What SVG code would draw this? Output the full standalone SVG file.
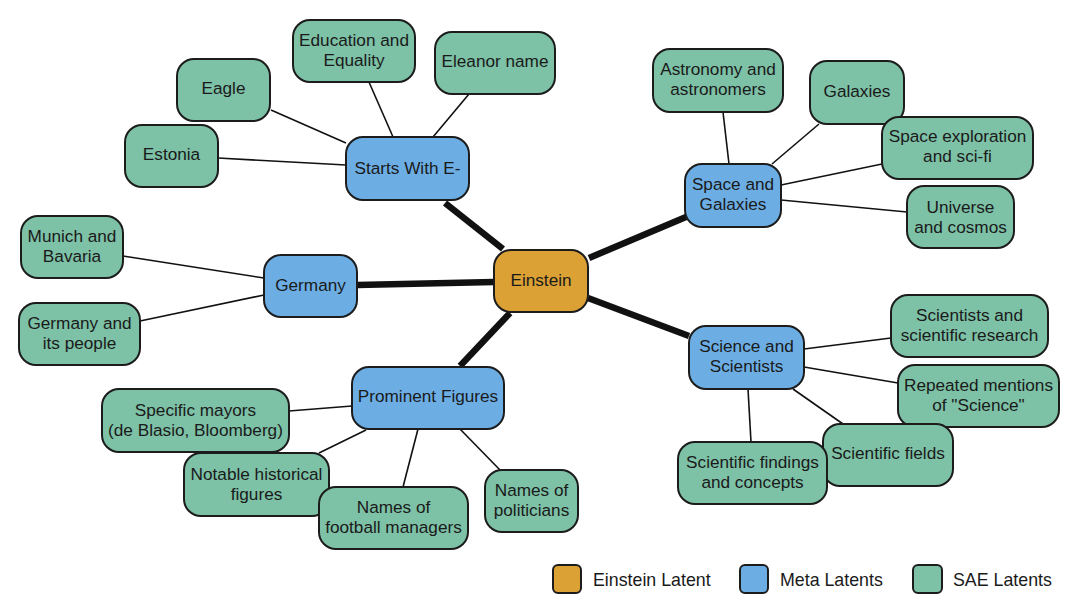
<svg xmlns="http://www.w3.org/2000/svg" width="1074" height="612" viewBox="0 0 1074 612">
<style>
.n rect{stroke:#1c1c1c;stroke-width:2}
.e rect{fill:#dba135}
.m rect{fill:#6caee4}
.s rect{fill:#7dc1a6}
text{font-family:"Liberation Sans",Arial,sans-serif;font-size:17.2px;fill:#1a1a1a;text-anchor:middle}
.lg{font-size:17.8px;text-anchor:start}
#edges line{stroke:#111;stroke-linecap:butt}
#edges .t{stroke-width:6.5}
#edges .f{stroke-width:1.6}
</style>
<rect width="1074" height="612" fill="#fff"/>
<g id="edges">
<line class="t" x1="445" y1="203" x2="503" y2="249"/>
<line class="t" x1="357" y1="285" x2="494" y2="282"/>
<line class="t" x1="589" y1="258" x2="686" y2="217"/>
<line class="t" x1="588" y1="298" x2="689" y2="336"/>
<line class="t" x1="460" y1="366" x2="510" y2="313"/>
<line class="f" x1="271" y1="110" x2="346" y2="143"/>
<line class="f" x1="218" y1="158" x2="346" y2="165"/>
<line class="f" x1="369" y1="82" x2="393" y2="137"/>
<line class="f" x1="469" y1="94" x2="433" y2="137"/>
<line class="f" x1="123" y1="256" x2="264" y2="278"/>
<line class="f" x1="140" y1="321" x2="264" y2="295"/>
<line class="f" x1="289" y1="411" x2="352" y2="406"/>
<line class="f" x1="319" y1="453" x2="366" y2="430"/>
<line class="f" x1="403" y1="487" x2="418" y2="429"/>
<line class="f" x1="500" y1="470" x2="460" y2="429"/>
<line class="f" x1="723" y1="112" x2="729" y2="164"/>
<line class="f" x1="819" y1="124" x2="772" y2="164"/>
<line class="f" x1="882" y1="164" x2="781" y2="185"/>
<line class="f" x1="907" y1="212" x2="781" y2="200"/>
<line class="f" x1="891" y1="338" x2="804" y2="349"/>
<line class="f" x1="898" y1="383" x2="804" y2="367"/>
<line class="f" x1="843" y1="424" x2="793" y2="389"/>
<line class="f" x1="751" y1="442" x2="748" y2="389"/>
</g>
<g id="n-einstein" class="n e"><rect x="494" y="250" width="94" height="62" rx="17"/><text x="541" y="286">Einstein</text></g>
<g id="n-starts" class="n m"><rect x="346" y="137" width="123" height="63" rx="17"/><text x="407.5" y="174">Starts With E-</text></g>
<g id="n-germany" class="n m"><rect x="264" y="255" width="93" height="62" rx="17"/><text x="310.5" y="291">Germany</text></g>
<g id="n-space" class="n m"><rect x="685" y="164" width="96" height="63" rx="17"/><text x="733" y="190">Space and</text><text x="733" y="210">Galaxies</text></g>
<g id="n-science" class="n m"><rect x="689" y="326" width="115" height="63" rx="17"/><text x="746.5" y="352">Science and</text><text x="746.5" y="372">Scientists</text></g>
<g id="n-prominent" class="n m"><rect x="352" y="367" width="152" height="62" rx="17"/><text x="428" y="402">Prominent Figures</text></g>
<g id="n-education" class="n s"><rect x="293" y="20" width="122" height="62" rx="17"/><text x="354" y="46">Education and</text><text x="354" y="66">Equality</text></g>
<g id="n-eleanor" class="n s"><rect x="435" y="32" width="120" height="62" rx="17"/><text x="495" y="67">Eleanor name</text></g>
<g id="n-eagle" class="n s"><rect x="177" y="59" width="93" height="62" rx="17"/><text x="223.5" y="94">Eagle</text></g>
<g id="n-estonia" class="n s"><rect x="125" y="125" width="93" height="62" rx="17"/><text x="171.5" y="160">Estonia</text></g>
<g id="n-munich" class="n s"><rect x="21" y="216" width="102" height="62" rx="17"/><text x="72" y="242">Munich and</text><text x="72" y="262">Bavaria</text></g>
<g id="n-gerpeople" class="n s"><rect x="19" y="303" width="121" height="62" rx="17"/><text x="79.5" y="329">Germany and</text><text x="79.5" y="349">its people</text></g>
<g id="n-mayors" class="n s"><rect x="102" y="389" width="187" height="63" rx="17"/><text x="195.5" y="416">Specific mayors</text><text x="195.5" y="436">(de Blasio, Bloomberg)</text></g>
<g id="n-notable" class="n s"><rect x="184" y="453" width="145" height="63" rx="17"/><text x="256.5" y="480">Notable historical</text><text x="256.5" y="500">figures</text></g>
<g id="n-football" class="n s"><rect x="319" y="487" width="149" height="62" rx="17"/><text x="393.5" y="513">Names of</text><text x="393.5" y="533">football managers</text></g>
<g id="n-politicians" class="n s"><rect x="485" y="470" width="93" height="62" rx="17"/><text x="531.5" y="496">Names of</text><text x="531.5" y="516">politicians</text></g>
<g id="n-astronomy" class="n s"><rect x="653" y="49" width="130" height="63" rx="17"/><text x="718" y="75">Astronomy and</text><text x="718" y="95">astronomers</text></g>
<g id="n-galaxies" class="n s"><rect x="810" y="61" width="94" height="63" rx="17"/><text x="857" y="97">Galaxies</text></g>
<g id="n-spaceexp" class="n s"><rect x="882" y="117" width="151" height="62" rx="17"/><text x="957.5" y="142">Space exploration</text><text x="957.5" y="162">and sci-fi</text></g>
<g id="n-universe" class="n s"><rect x="907" y="186" width="107" height="62" rx="17"/><text x="960.5" y="213">Universe</text><text x="960.5" y="233">and cosmos</text></g>
<g id="n-research" class="n s"><rect x="891" y="295" width="157" height="62" rx="17"/><text x="969.5" y="321">Scientists and</text><text x="969.5" y="341">scientific research</text></g>
<g id="n-repeated" class="n s"><rect x="898" y="365" width="161" height="62" rx="17"/><text x="978.5" y="391">Repeated mentions</text><text x="978.5" y="411">of "Science"</text></g>
<g id="n-fields" class="n s"><rect x="823" y="424" width="130" height="62" rx="17"/><text x="888" y="459">Scientific fields</text></g>
<g id="n-findings" class="n s"><rect x="678" y="442" width="149" height="62" rx="17"/><text x="752.5" y="468">Scientific findings</text><text x="752.5" y="488">and concepts</text></g>
<g id="legend">
<g class="n e"><rect x="553" y="565" width="28" height="28" rx="5"/></g>
<text class="lg" x="593" y="586">Einstein Latent</text>
<g class="n m"><rect x="740" y="565" width="28" height="28" rx="5"/></g>
<text class="lg" x="780" y="586">Meta Latents</text>
<g class="n s"><rect x="913" y="565" width="29" height="28" rx="5"/></g>
<text class="lg" x="953" y="586">SAE Latents</text>
</g>
</svg>
